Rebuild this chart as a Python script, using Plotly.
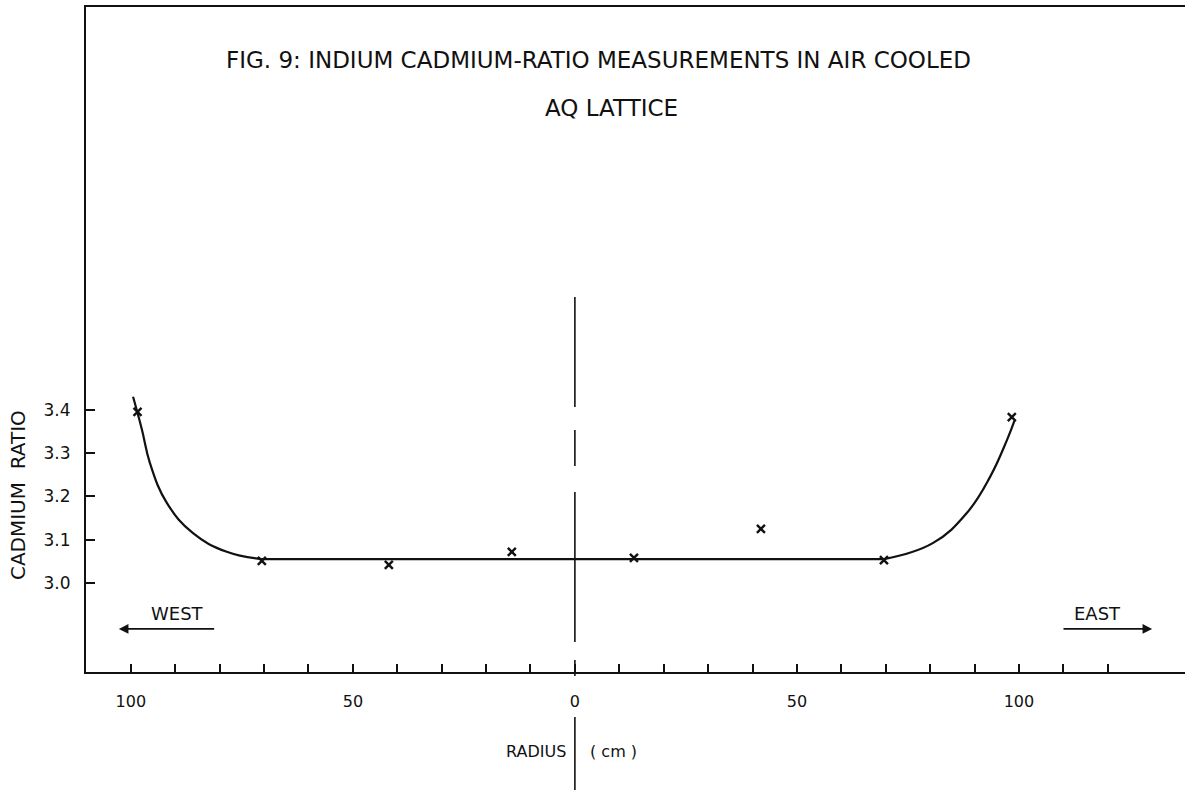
import plotly.graph_objects as go

# ---- data ----
pts_x = [-98.5, -70.5, -41.9, -14.2, 13.3, 41.9, 69.6, 98.4]
pts_y = [3.395, 3.051, 3.042, 3.072, 3.058, 3.125, 3.053, 3.383]

left_x = [-99.5, -97.5, -95.7, -91.9, -86.0, -78.4, -70.5]
left_y = [3.43, 3.354, 3.277, 3.185, 3.115, 3.072, 3.055]
flat_x = [-70.5, 69.6]
flat_y = [3.055, 3.055]
right_x = [69.6, 80.6, 88.3, 93.5, 97.3, 99.0]
right_y = [3.055, 3.092, 3.162, 3.245, 3.330, 3.375]

x_tick_vals = [-100, -90, -80, -70, -60, -50, -40, -30, -20, -10, 0,
               10, 20, 30, 40, 50, 60, 70, 80, 90, 100, 110, 120]
x_tick_text = ["100", "", "", "", "", "50", "", "", "", "", "0",
               "", "", "", "", "50", "", "", "", "", "100", "", ""]
y_tick_vals = [3.0, 3.1, 3.2, 3.3, 3.4]
y_tick_text = ["3.0", "3.1", "3.2", "3.3", "3.4"]

FONT = "DejaVu Sans, sans-serif"
INK = "#111111"

fig = go.Figure()
for cx, cy in [(left_x, left_y), (flat_x, flat_y), (right_x, right_y)]:
    fig.add_trace(go.Scatter(x=cx, y=cy, mode="lines",
                             line=dict(color=INK, width=2.2, shape="spline", smoothing=1.2),
                             hoverinfo="skip", showlegend=False))
fig.add_trace(go.Scatter(x=pts_x, y=pts_y, mode="markers",
                         marker=dict(symbol="x-thin", size=8, line=dict(color=INK, width=2.4)),
                         showlegend=False))

# dashed centre line at radius 0
segs = [(0.5639, 0.3985), (0.3639, 0.3098), (0.2707, 0.0451), (0.0180, -0.006), (-0.0677, -0.1774)]
for y0, y1 in segs:
    fig.add_shape(type="line", xref="x", yref="paper", x0=0, x1=0, y0=y0, y1=y1,
                  line=dict(color=INK, width=1.6))

ann = [
    dict(text="FIG. 9: INDIUM CADMIUM-RATIO MEASUREMENTS IN AIR COOLED", x=0.466, y=0.920, size=23),
    dict(text="AQ LATTICE", x=0.478, y=0.848, size=23),
]
for a in ann:
    fig.add_annotation(text=a["text"], x=a["x"], y=a["y"], xref="paper", yref="paper", showarrow=False,
                       font=dict(family=FONT, size=a["size"], color=INK), xanchor="center", yanchor="middle")

fig.add_annotation(text="CADMIUM  RATIO", x=-0.0619, y=0.266, xref="paper", yref="paper", showarrow=False,
                   textangle=-90, font=dict(family=FONT, size=20, color=INK), xanchor="center", yanchor="middle")
fig.add_annotation(text="RADIUS", x=-1.5, y=-0.120, xref="x", yref="paper", showarrow=False,
                   font=dict(family=FONT, size=16, color=INK), xanchor="right", yanchor="middle")
fig.add_annotation(text="( cm )", x=3.0, y=-0.120, xref="x", yref="paper", showarrow=False,
                   font=dict(family=FONT, size=16, color=INK), xanchor="left", yanchor="middle")

# WEST / EAST with arrows
fig.add_annotation(text="WEST", x=-89.4, y=2.930, xref="x", yref="y", showarrow=False,
                   font=dict(family=FONT, size=18, color=INK))
fig.add_annotation(text="EAST", x=117.6, y=2.930, xref="x", yref="y", showarrow=False,
                   font=dict(family=FONT, size=18, color=INK))
fig.add_annotation(x=-102.7, y=2.894, ax=-80.9, ay=2.894, xref="x", yref="y", axref="x", ayref="y",
                   text="", showarrow=True, arrowhead=2, arrowsize=1.2, arrowwidth=1.6, arrowcolor=INK)
fig.add_annotation(x=130.0, y=2.894, ax=109.7, ay=2.894, xref="x", yref="y", axref="x", ayref="y",
                   text="", showarrow=True, arrowhead=2, arrowsize=1.2, arrowwidth=1.6, arrowcolor=INK)

fig.update_layout(
    width=1185, height=791,
    margin=dict(l=86, r=0, t=7, b=119),
    paper_bgcolor="white", plot_bgcolor="white",
    showlegend=False,
    xaxis=dict(range=[-110.1, 137.4], showgrid=False, zeroline=False, showline=True, linecolor=INK,
               linewidth=2, mirror=True, ticks="inside", ticklen=8, tickwidth=2, tickcolor=INK,
               tickmode="array", tickvals=x_tick_vals, ticktext=x_tick_text, ticklabelstandoff=14,
               tickfont=dict(family=FONT, size=16, color=INK)),
    yaxis=dict(range=[2.7945, 4.330], showgrid=False, zeroline=False, showline=True, linecolor=INK,
               linewidth=2, ticks="inside", ticklen=9, tickwidth=2, tickcolor=INK,
               tickmode="array", tickvals=y_tick_vals, ticktext=y_tick_text, ticklabelstandoff=10,
               tickfont=dict(family=FONT, size=17, color=INK)),
)

fig.write_html("out.html")
